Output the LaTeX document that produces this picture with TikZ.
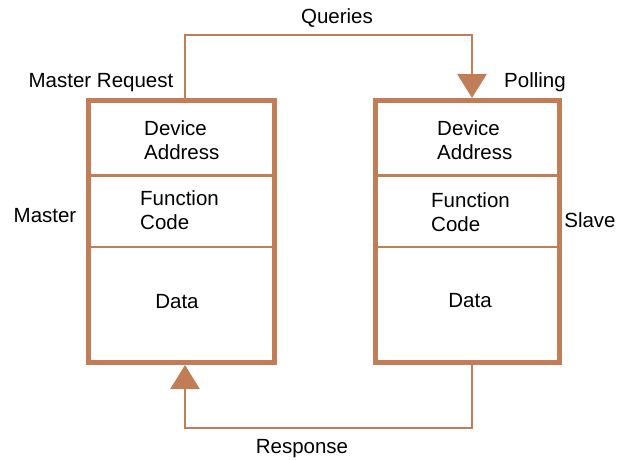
\documentclass[tikz,border=0pt]{standalone}
\usepackage{fontspec}
\setmainfont{Liberation Sans}
\usetikzlibrary{arrows.meta,calc}
\definecolor{brn}{RGB}{193,126,86}
\begin{document}
\begin{tikzpicture}[x=1pt,y=1pt,
  box/.style={draw=brn, line width=5pt, fill=white, inner sep=0pt},
  div/.style={draw=brn, line width=2.8pt},
  conn/.style={draw=brn, line width=2.8pt},
  tip/.style={-{Triangle[width=29pt,length=24pt]}},
  lbl/.style={font=\fontsize{20.5}{24}\selectfont, inner sep=0pt, text=black},
  txt/.style={lbl, align=left, anchor=base west}]
\useasboundingbox (0,0) rectangle (619,-459);
\coordinate (qx) at (185,0);
\coordinate (sx) at (472,0);
\coordinate (qy) at (0,-35);
\coordinate (ry) at (0,-428);
\coordinate (d1) at (0,-175.5);
\coordinate (d2) at (0,-247);
% boxes
\node[box, minimum width=186pt, minimum height=262pt] (m) at (181.5,-231.5) {};
\node[box, minimum width=184pt, minimum height=262pt] (s) at (467.5,-231.5) {};
\draw[div] (m.west |- d1) -- (m.east |- d1);
\draw[div] (m.west |- d2) -- (m.east |- d2);
\draw[div] (s.west |- d1) -- (s.east |- d1);
\draw[div] (s.west |- d2) -- (s.east |- d2);
% texts inside
\node[txt] (mda) at (144,-159) {Device\\Address};
\node[txt] (mfc) at (140,-229) {Function\\Code};
\node[lbl, anchor=base] (mdt) at (177,-308) {Data};
\node[txt] (sda) at (437,-159) {Device\\Address};
\node[txt] (sfc) at (431,-231) {Function\\Code};
\node[lbl, anchor=base] (sdt) at (470,-307) {Data};
% connectors
\draw[conn, tip] (m.north -| qx) |- (qy -| sx) -- (s.north -| sx);
\draw[conn, tip] (s.south -| sx) |- (qx |- ry) -- (m.south -| qx);
% labels
\node[lbl, anchor=base] (lq) at (337,-23) {Queries};
\node[lbl, anchor=base] (lmr) at (101,-87) {Master Request};
\node[lbl, anchor=base] (lp) at (535,-87) {Polling};
\node[lbl, anchor=base] (lm) at (45,-222) {Master};
\node[lbl, anchor=base] (ls) at (590,-227) {Slave};
\node[lbl, anchor=base] (lr) at (302,-453) {Response};
\end{tikzpicture}
\end{document}
